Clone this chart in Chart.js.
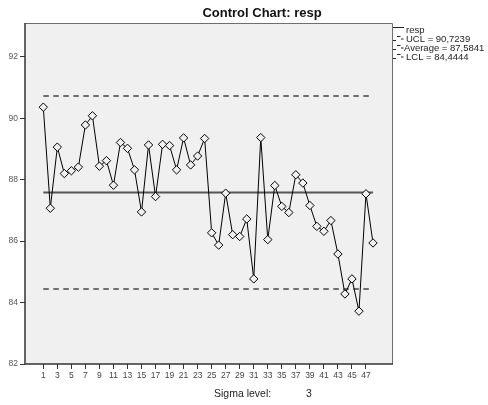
<!DOCTYPE html>
<html>
<head>
<meta charset="utf-8">
<title>Control Chart: resp</title>
<script src="https://cdn.jsdelivr.net/npm/chart.js@4.4.1/dist/chart.umd.min.js"></script>
<style>
  html, body { margin: 0; padding: 0; background: #ffffff; }
  #wrap { width: 488px; height: 405px; position: relative; }
</style>
</head>
<body>
<div id="wrap"><canvas id="chart" width="488" height="405"></canvas></div>
<script>
// Sample numbers (x categories)
const sampleNumbers = [1, 2, 3, 4, 5, 6, 7, 8, 9, 10, 11, 12, 13, 14, 15, 16,
  17, 18, 19, 20, 21, 22, 23, 24, 25, 26, 27, 28, 29, 30, 31, 32,
  33, 34, 35, 36, 37, 38, 39, 40, 41, 42, 43, 44, 45, 46, 47, 48];

// Individual response values
const respValues = [90.36, 87.07, 89.06, 88.20, 88.29, 88.41, 89.78, 90.08,
  88.44, 88.62, 87.82, 89.21, 89.02, 88.32, 86.95, 89.13,
  87.45, 89.15, 89.11, 88.32, 89.36, 88.48, 88.77, 89.34,
  86.27, 85.87, 87.56, 86.21, 86.15, 86.72, 84.77, 89.37,
  86.05, 87.81, 87.13, 86.93, 88.16, 87.89, 87.16, 86.48,
  86.32, 86.67, 85.58, 84.28, 84.77, 83.72, 87.54, 85.94];

// Control limits
const UCL = 90.7239;
const AVERAGE = 87.5841;
const LCL = 84.4444;

// Axis tick labels
const xTickLabels = [1, 3, 5, 7, 9, 11, 13, 15, 17, 19, 21, 23, 25, 27, 29, 31,
  33, 35, 37, 39, 41, 43, 45, 47];
const yTickLabels = [82, 84, 86, 88, 90, 92];

// Legend entries
const legendLabels = ['resp', 'UCL = 90,7239', 'Average = 87,5841', 'LCL = 84,4444'];
const sigmaLevel = 3;

const FONT = '"Liberation Sans", Arial, sans-serif';

const respPoints = sampleNumbers.map((n, i) => ({ x: n, y: respValues[i] }));
const first = sampleNumbers[0];
const last = sampleNumbers[sampleNumbers.length - 1];
const limitLine = v => [{ x: first, y: v }, { x: last, y: v }];

// Plot panel background and frame
const panelPlugin = {
  id: 'panel',
  beforeDraw(chart) {
    const { ctx, chartArea: a } = chart;
    ctx.save();
    ctx.fillStyle = '#ffffff';
    ctx.fillRect(0, 0, chart.width, chart.height);
    ctx.fillStyle = '#f0f0f0';
    ctx.fillRect(a.left, a.top, a.right - a.left, a.bottom - a.top);
    ctx.restore();
  },
  afterDatasetsDraw(chart) {
    const { ctx, chartArea: a } = chart;
    ctx.save();
    ctx.strokeStyle = '#6e6e6e';
    ctx.lineWidth = 1;
    ctx.beginPath();
    ctx.moveTo(a.left, a.top + 0.5);
    ctx.lineTo(a.right + 0.5, a.top + 0.5);
    ctx.lineTo(a.right + 0.5, a.bottom);
    ctx.stroke();
    ctx.strokeStyle = '#333333';
    ctx.lineWidth = 1.5;
    ctx.beginPath();
    ctx.moveTo(a.left, a.top);
    ctx.lineTo(a.left, a.bottom);
    ctx.lineTo(a.right + 1, a.bottom);
    ctx.stroke();
    ctx.restore();
  }
};

// Title, legend and footer text
const textPlugin = {
  id: 'texts',
  afterDraw(chart) {
    const ctx = chart.ctx;
    ctx.save();
    ctx.fillStyle = '#111111';
    ctx.font = 'bold 13px ' + FONT;
    ctx.textAlign = 'center';
    ctx.textBaseline = 'alphabetic';
    ctx.fillText('Control Chart: resp', 262, 17);

    // legend
    ctx.font = '9.5px ' + FONT;
    ctx.textAlign = 'left';
    ctx.fillStyle = '#222222';
    const baselines = [33, 42, 51, 60];
    const textX = [406, 406, 404, 406];
    ctx.strokeStyle = '#222222';
    ctx.lineWidth = 1;
    baselines.forEach((b, i) => {
      ctx.beginPath();
      if (i === 0) {
        ctx.moveTo(393, b - 5.5);
        ctx.lineTo(404, b - 5.5);
      } else {
        ctx.moveTo(393, b - 1.5); ctx.lineTo(396, b - 1.5);
        ctx.moveTo(397, b - 5.5); ctx.lineTo(400.5, b - 5.5);
        ctx.moveTo(401, b - 3); ctx.lineTo(403.5, b - 3);
      }
      ctx.stroke();
      ctx.fillText(legendLabels[i], textX[i], b);
    });

    // footer
    ctx.font = '10.5px ' + FONT;
    ctx.fillStyle = '#222222';
    ctx.fillText('Sigma level:', 214, 397);
    ctx.fillText(String(sigmaLevel), 306, 397);
    ctx.restore();
  }
};

new Chart(document.getElementById('chart'), {
  type: 'line',
  data: {
    datasets: [
      {
        label: 'resp',
        data: respPoints,
        order: 0,
        borderColor: '#000000',
        borderWidth: 1,
        tension: 0,
        pointStyle: 'rectRot',
        pointRadius: 4.2,
        pointBorderColor: '#000000',
        pointBackgroundColor: '#f0f0f0',
        pointBorderWidth: 1
      },
      {
        label: 'UCL',
        data: limitLine(UCL),
        order: 1,
        borderColor: '#444444',
        borderWidth: 1.5,
        borderDash: [5.5, 4.5],
        pointRadius: 0
      },
      {
        label: 'Average',
        data: limitLine(AVERAGE),
        order: 1,
        borderColor: '#555555',
        borderWidth: 2,
        pointRadius: 0
      },
      {
        label: 'LCL',
        data: limitLine(LCL),
        order: 1,
        borderColor: '#444444',
        borderWidth: 1.5,
        borderDash: [5.5, 4.5],
        pointRadius: 0
      }
    ]
  },
  options: {
    responsive: false,
    animation: false,
    events: [],
    layout: { padding: { top: 23, right: 96, left: 0, bottom: 0 } },
    plugins: {
      legend: { display: false },
      tooltip: { enabled: false },
      title: { display: false }
    },
    scales: {
      x: {
        type: 'linear',
        min: -1.61,
        max: 50.71,
        afterBuildTicks(scale) {
          scale.ticks = xTickLabels.map(v => ({ value: v }));
        },
        afterFit(scale) { scale.height = 41; },
        border: { display: false },
        grid: {
          drawOnChartArea: false,
          drawTicks: true,
          tickLength: 5,
          tickColor: '#333333',
          lineWidth: 1
        },
        ticks: {
          autoSkip: false,
          maxRotation: 0,
          minRotation: 0,
          padding: 2,
          color: '#444444',
          font: { family: FONT, size: 8.5 }
        }
      },
      y: {
        type: 'linear',
        min: 82,
        max: 93.1,
        afterBuildTicks(scale) {
          scale.ticks = yTickLabels.map(v => ({ value: v }));
        },
        afterFit(scale) { scale.width = 25; },
        border: { display: false },
        grid: {
          drawOnChartArea: false,
          drawTicks: true,
          tickLength: 5,
          tickColor: '#333333',
          lineWidth: 1
        },
        ticks: {
          padding: 2,
          color: '#555555',
          font: { family: FONT, size: 8.5 }
        }
      }
    }
  },
  plugins: [panelPlugin, textPlugin]
});
</script>
</body>
</html>
